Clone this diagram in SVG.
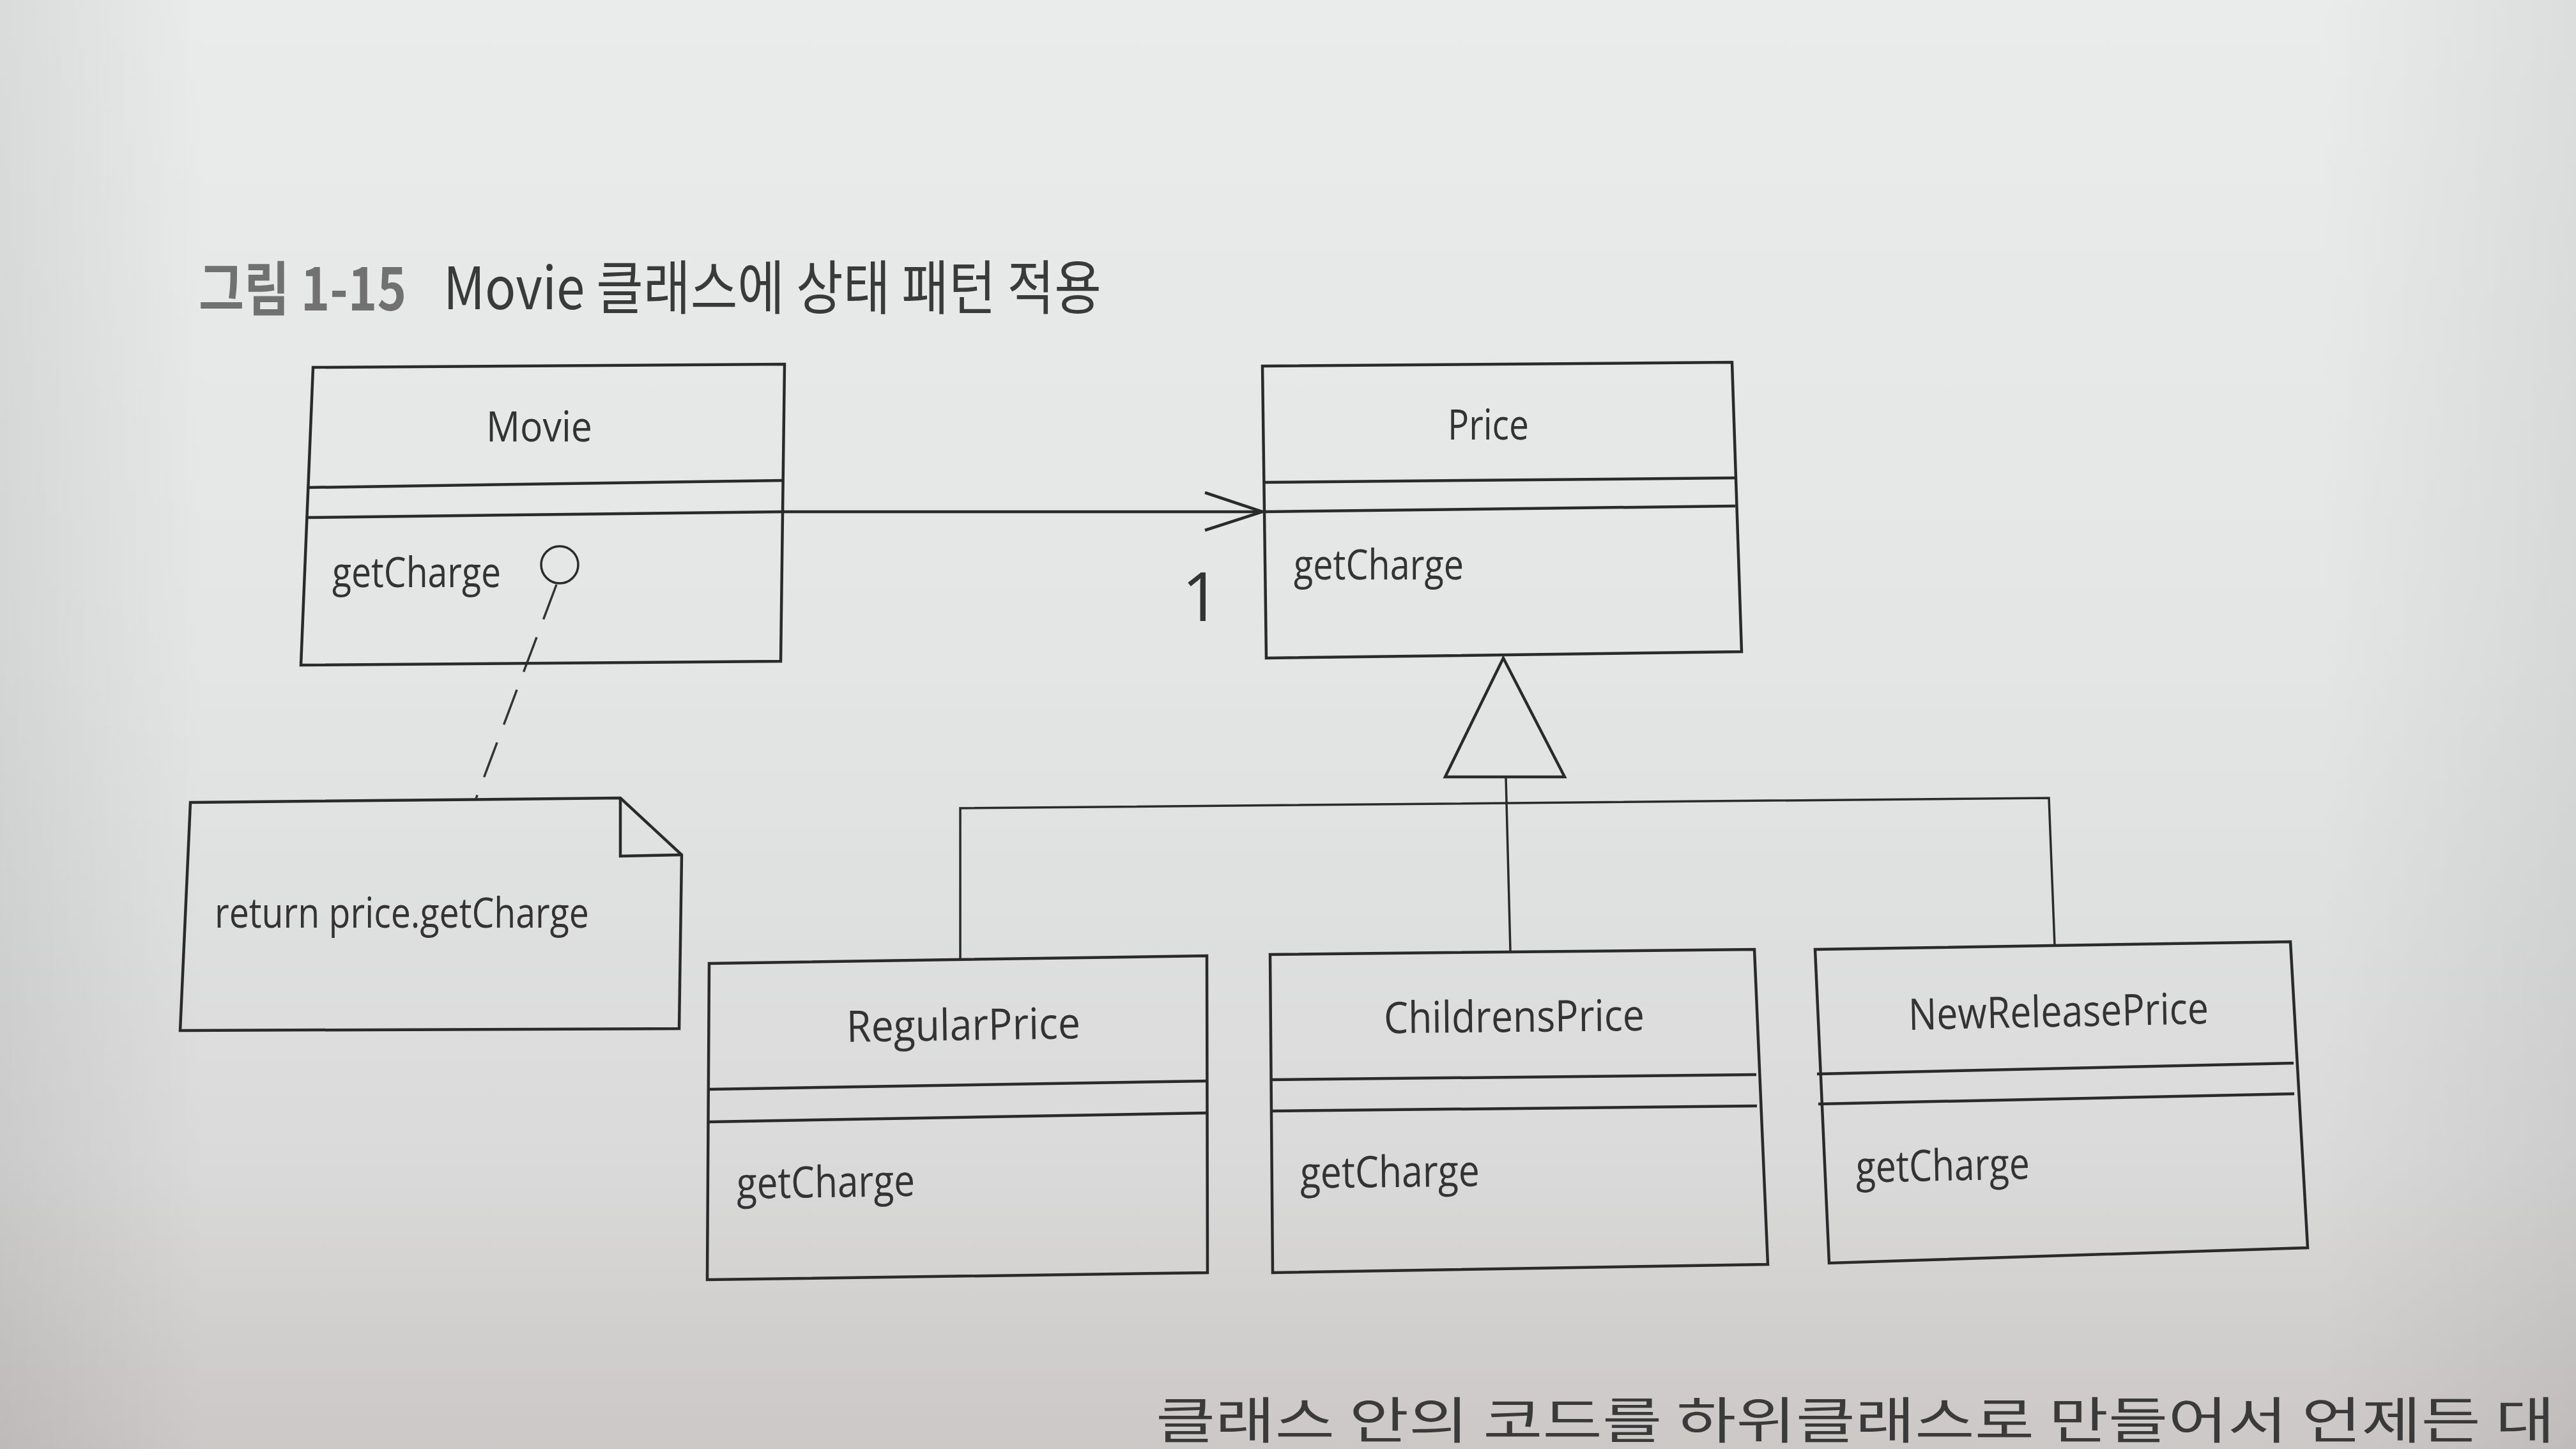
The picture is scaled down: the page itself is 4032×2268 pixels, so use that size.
<svg xmlns="http://www.w3.org/2000/svg" width="4032" height="2268" viewBox="0 0 4032 2268">
  <defs>
    <linearGradient id="paper" x1="0" y1="0" x2="0" y2="1">
      <stop offset="0" stop-color="#eaebeb"/>
      <stop offset="0.45" stop-color="#e4e5e5"/>
      <stop offset="0.8" stop-color="#dadada"/>
      <stop offset="1" stop-color="#cbc8c6"/>
    </linearGradient>
    <linearGradient id="edge" x1="0" y1="0" x2="1" y2="0">
      <stop offset="0" stop-color="#000" stop-opacity="0.07"/>
      <stop offset="0.08" stop-color="#000" stop-opacity="0"/>
      <stop offset="0.9" stop-color="#000" stop-opacity="0"/>
      <stop offset="1" stop-color="#000" stop-opacity="0.06"/>
    </linearGradient>
    <marker id="openArrow" markerUnits="userSpaceOnUse" markerWidth="110" markerHeight="80" viewBox="0 0 110 80" refX="96" refY="33" orient="auto">
      <path d="M6,3 L96,33 L6,62" fill="none" stroke="#2a2a2a" stroke-width="4.5"/>
    </marker>
    <style>
      .ln { fill: none; stroke: #2a2a2a; stroke-width: 4.5; stroke-linejoin: miter; }
      .thin { fill: none; stroke: #2a2a2a; stroke-width: 3.5; }
      .dash { fill: none; stroke: #333; stroke-width: 3.5; stroke-dasharray: 58 30; }
      .lbl { font-family: "Open Sans", "Noto Sans", "Liberation Sans", sans-serif; fill: #333; }
      .top { font-size: 65px; }
      .bot { font-size: 68px; }
      .title { font-family: "Noto Sans CJK KR", "Noto Sans", sans-serif; font-size: 92px; }
    </style>
  </defs>

  <rect x="0" y="0" width="4032" height="2268" fill="url(#paper)"/>
  <rect x="0" y="0" width="4032" height="2268" fill="url(#edge)"/>

  <!-- Title -->
  <g id="title">
    <text class="title" x="311" y="486" fill="#717171" font-weight="700" textLength="325" lengthAdjust="spacingAndGlyphs">그림 1-15</text>
    <text class="title" x="694" y="484" fill="#3a3a3a" textLength="1030" lengthAdjust="spacingAndGlyphs">Movie 클래스에 상태 패턴 적용</text>
  </g>

  <!-- Connectors -->
  <g id="connectors">
    <!-- association Movie -> Price -->
    <line class="ln" x1="1226" y1="801" x2="1976" y2="801" marker-end="url(#openArrow)"/>
    <!-- note anchor -->
    <path class="dash" d="M871,915 L745,1250"/>
    <!-- generalization tree -->
    <polygon class="ln" points="2353,1030 2449,1216 2262,1216"/>
    <path class="thin" d="M2357,1216 L2364,1488"/>
    <path class="thin" d="M1503,1500 L1503,1265 L3207,1249 L3216,1480"/>
  </g>

  <!-- Movie -->
  <g id="movie">
    <polygon class="ln" points="490,575 1228,570 1222,1035 471,1041"/>
    <line class="ln" x1="483" y1="763" x2="1226" y2="752"/>
    <line class="ln" x1="482" y1="810" x2="1226" y2="801"/>
    <text class="lbl top" x="761" y="691" textLength="166" lengthAdjust="spacingAndGlyphs">Movie</text>
    <text class="lbl top" x="520" y="919" textLength="264" lengthAdjust="spacingAndGlyphs">getCharge</text>
    <circle class="thin" cx="876" cy="884" r="29"/>
  </g>

  <!-- Note -->
  <g id="note">
    <polygon class="ln" points="298,1256 971,1249 1067,1338 1063,1610 282,1613"/>
    <polyline class="ln" points="971,1249 971,1340 1067,1338"/>
    <text class="lbl top" x="336" y="1452" textLength="586" lengthAdjust="spacingAndGlyphs">return price.getCharge</text>
  </g>

  <!-- Price -->
  <g id="price">
    <polygon class="ln" points="1976,573 2711,567 2726,1020 1982,1030"/>
    <line class="ln" x1="1979" y1="755" x2="2715" y2="748"/>
    <line class="ln" x1="1979" y1="801" x2="2716" y2="792"/>
    <text class="lbl top" x="2266" y="688" textLength="127" lengthAdjust="spacingAndGlyphs">Price</text>
    <text class="lbl top" x="2025" y="907" textLength="266" lengthAdjust="spacingAndGlyphs">getCharge</text>
  </g>

  <!-- RegularPrice -->
  <g id="regularPrice">
    <polygon class="ln" points="1110,1508 1889,1496 1890,1992 1107,2003"/>
    <line class="ln" x1="1109" y1="1705" x2="1889" y2="1692"/>
    <line class="ln" x1="1109" y1="1756" x2="1889" y2="1742"/>
    <text class="lbl bot" x="1325" y="1628" textLength="366" lengthAdjust="spacingAndGlyphs" transform="rotate(-0.9 1508 1610)">RegularPrice</text>
    <text class="lbl bot" x="1153" y="1874" textLength="279" lengthAdjust="spacingAndGlyphs" transform="rotate(-0.9 1292 1860)">getCharge</text>
  </g>

  <!-- ChildrensPrice -->
  <g id="childrensPrice">
    <polygon class="ln" points="1988,1494 2746,1486 2767,1979 1992,1992"/>
    <line class="ln" x1="1990" y1="1690" x2="2749" y2="1682"/>
    <line class="ln" x1="1990" y1="1739" x2="2750" y2="1731"/>
    <text class="lbl bot" x="2166" y="1615" textLength="408" lengthAdjust="spacingAndGlyphs" transform="rotate(-0.6 2370 1600)">ChildrensPrice</text>
    <text class="lbl bot" x="2035" y="1858" textLength="281" lengthAdjust="spacingAndGlyphs" transform="rotate(-0.6 2175 1845)">getCharge</text>
  </g>

  <!-- NewReleasePrice -->
  <g id="newReleasePrice">
    <polygon class="ln" points="2841,1486 3585,1474 3612,1953 2863,1977"/>
    <line class="ln" x1="2844" y1="1681" x2="3590" y2="1664"/>
    <line class="ln" x1="2846" y1="1728" x2="3591" y2="1712"/>
    <text class="lbl bot" x="2987" y="1607" textLength="470" lengthAdjust="spacingAndGlyphs" transform="rotate(-1.2 3222 1590)">NewReleasePrice</text>
    <text class="lbl bot" x="2905" y="1848" textLength="272" lengthAdjust="spacingAndGlyphs" transform="rotate(-1.2 3041 1835)">getCharge</text>
  </g>

  <!-- multiplicity -->
  <text class="lbl" x="1880" y="972" font-size="106" text-anchor="middle" fill="#3a3a3a">1</text>

  <!-- body text line at the page bottom -->
  <text x="1809" y="2252" font-family="Noto Sans CJK KR, Noto Sans, sans-serif" font-size="78" fill="#3a3a3a" textLength="2190" lengthAdjust="spacingAndGlyphs">클래스 안의 코드를 하위클래스로 만들어서 언제든 대</text>
</svg>
